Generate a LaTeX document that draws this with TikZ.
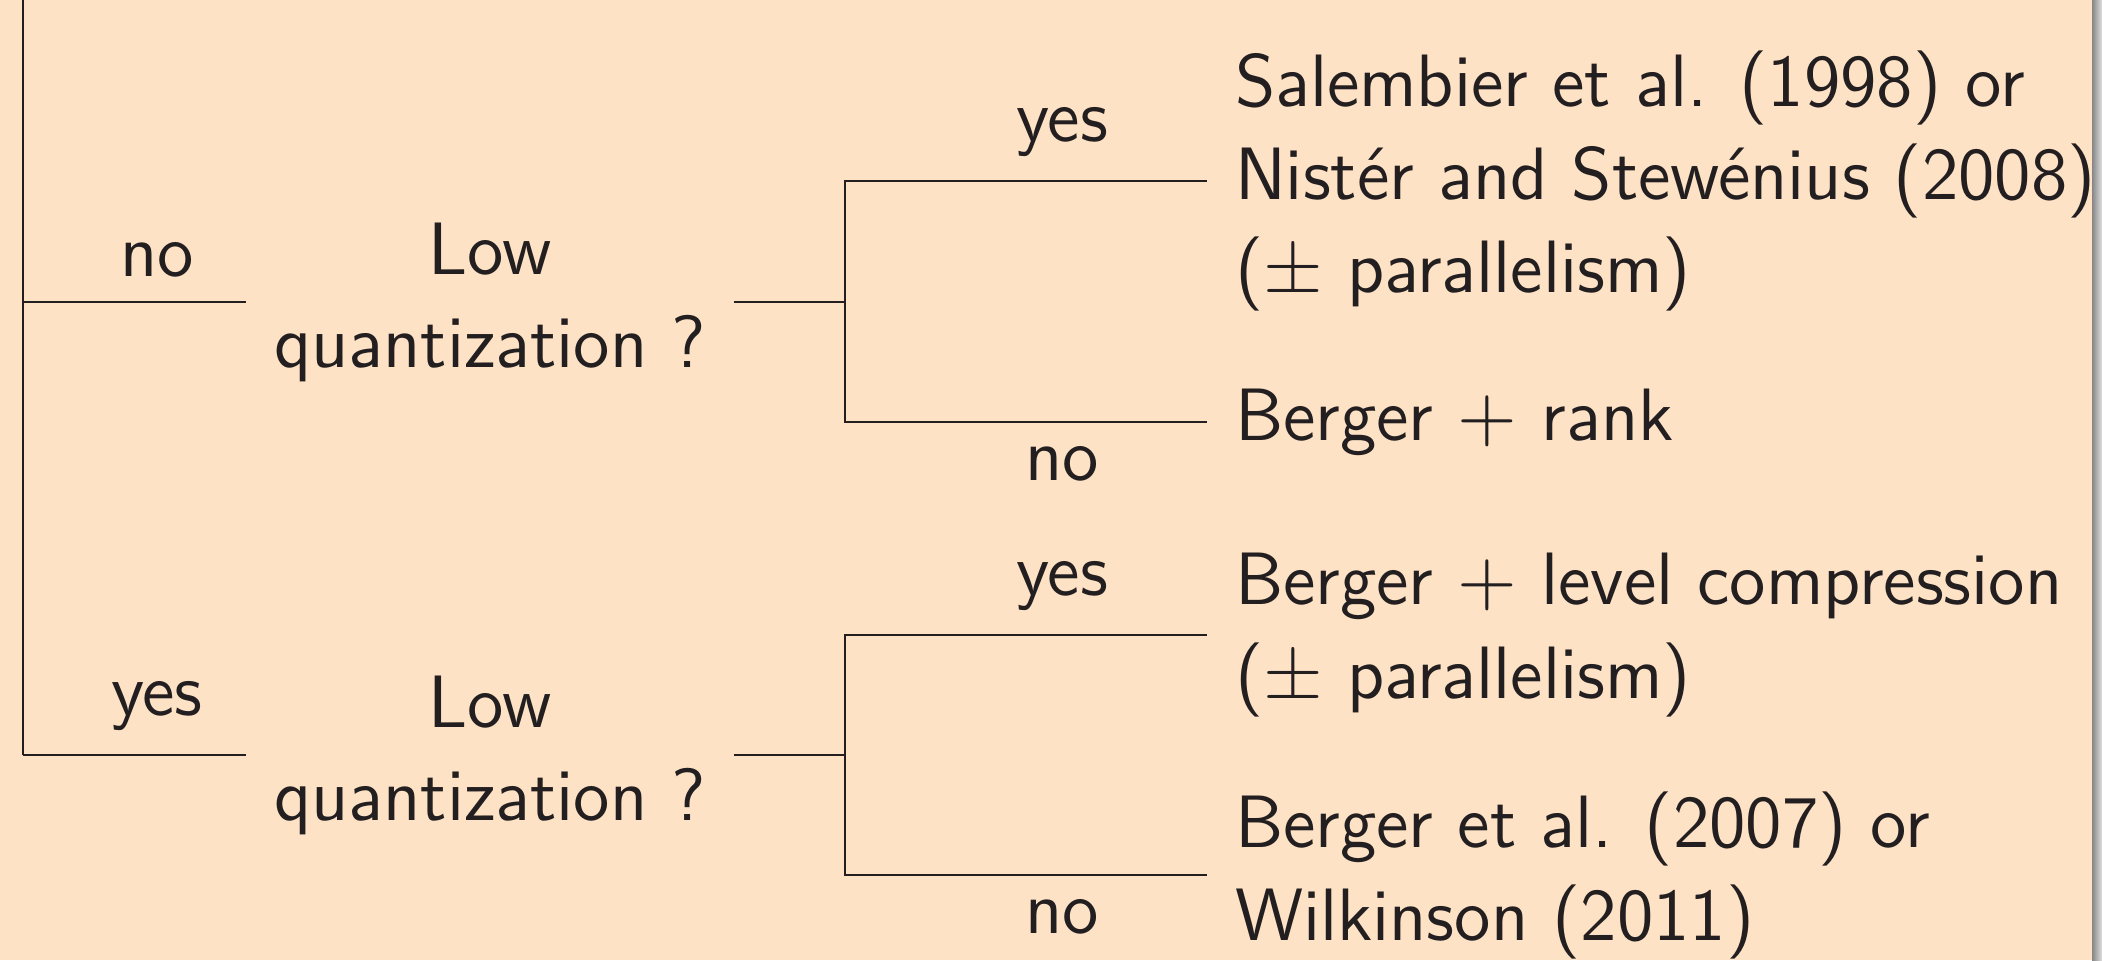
\documentclass[tikz,border=0pt]{standalone}
\usetikzlibrary{positioning}
\definecolor{bgpeach}{RGB}{253,226,198}
\definecolor{inkc}{RGB}{35,31,32}
\definecolor{shadowa}{RGB}{135,135,135}
\definecolor{shadowb}{RGB}{225,225,225}
\font\sfq="[lmsans12-regular.otf]" at 10.6pt
\begin{document}
\begin{tikzpicture}[x=0.142857pt,y=-0.142857pt,
  txt/.style={font=\fontsize{10.6}{13.3}\selectfont\sfq, text=inkc},
  question/.style={txt, align=center, inner xsep=3.8pt, inner ysep=0pt},
  leaf/.style={txt, align=left, anchor=west, inner xsep=3.8pt, inner ysep=0pt},
  lbl/.style={txt, inner sep=3.4pt},
  branch/.style={draw=inkc, line width=0.3pt}]
\useasboundingbox (0,0) rectangle (2102,960);
\fill[bgpeach] (0,0) rectangle (2092,960);
\shade[left color=shadowa, right color=shadowb] (2092,0) rectangle (2102,960);

% coordinates of the trunk
\coordinate (top) at (23,-5);
\coordinate (j1) at (23,302);
\coordinate (j2) at (23,755);
\coordinate (b1) at (845,302);
\coordinate (b2) at (845,755);

% question nodes
\node[question] (q1) at (490,302) {Low\\quantization ?};
\node[question] (q2) at (490,755) {Low\\quantization ?};

% leaves
\node[leaf] (l1) at (1207,181) {Salembier et al. (1998) or\\Nistér and Stewénius (2008)\\($\pm$ parallelism)};
\node[leaf] (l2) at (1207,422) {Berger $+$ rank};
\node[leaf] (l3) at (1207,635) {Berger $+$ level compression\\($\pm$ parallelism)};
\node[leaf] (l4) at (1207,875) {Berger et al. (2007) or\\Wilkinson (2011)};

% connectors
\draw[branch] (top) -- (j2);
\draw[branch] (j1) -- node[lbl, above, pos=0.6] {no} (q1.west);
\draw[branch] (j2) -- node[lbl, above, pos=0.6] {yes} (q2.west);
\draw[branch] (q1.east) -- (b1);
\draw[branch] (q2.east) -- (b2);
\draw[branch] (b1) |- node[lbl, above, pos=0.8] {yes} (l1.west);
\draw[branch] (b1) |- node[lbl, below, pos=0.8] {no} (l2.west);
\draw[branch] (b2) |- node[lbl, above, pos=0.8] {yes} (l3.west);
\draw[branch] (b2) |- node[lbl, below, pos=0.8] {no} (l4.west);
\end{tikzpicture}
\end{document}
